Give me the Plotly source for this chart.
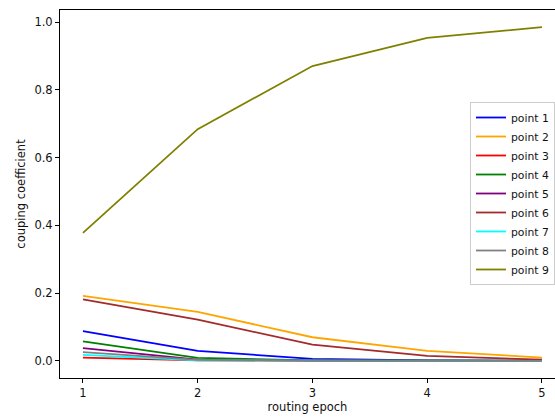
import plotly.graph_objects as go

epochs = [1, 2, 3, 4, 5]
point1 = [0.088, 0.030, 0.006, 0.002, 0.001]
point2 = [0.192, 0.145, 0.070, 0.030, 0.010]
point3 = [0.010, 0.002, 0.001, 0.0005, 0.0003]
point4 = [0.058, 0.009, 0.002, 0.001, 0.0005]
point5 = [0.038, 0.004, 0.001, 0.0005, 0.0003]
point6 = [0.182, 0.122, 0.048, 0.015, 0.004]
point7 = [0.018, 0.002, 0.001, 0.0005, 0.0003]
point8 = [0.026, 0.003, 0.001, 0.0005, 0.0003]
point9 = [0.378, 0.684, 0.870, 0.953, 0.985]

names = ["point 1", "point 2", "point 3", "point 4", "point 5",
         "point 6", "point 7", "point 8", "point 9"]
series = [point1, point2, point3, point4, point5, point6, point7, point8, point9]
colors = ["blue", "orange", "red", "green", "purple",
          "brown", "cyan", "gray", "olive"]

fig = go.Figure()
for n, s, c in zip(names, series, colors):
    fig.add_trace(go.Scatter(x=epochs, y=s, mode="lines", name=n,
                             line=dict(color=c, width=1.8)))

font = dict(family="DejaVu Sans", size=11.5, color="#111")
fig.update_layout(
    width=555, height=419,
    margin=dict(l=60, r=0, t=10, b=41, autoexpand=False),
    plot_bgcolor="white", paper_bgcolor="white",
    font=font,
    showlegend=True,
    legend=dict(x=0.8283, y=0.75, xanchor="left", yanchor="top",
                bgcolor="white", bordercolor="#cccccc", borderwidth=1,
                font=dict(family="DejaVu Sans", size=10.8, color="#111"),
                itemwidth=30),
    xaxis=dict(range=[0.8, 5.1137], tickvals=epochs, ticktext=["1", "2", "3", "4", "5"],
               automargin=False,
               showgrid=False, zeroline=False, showline=True, linecolor="black",
               linewidth=1, mirror=True, ticks="outside", ticklen=4,
               tickcolor="black",
               title=dict(text="routing epoch", font=font, standoff=2)),
    yaxis=dict(range=[-0.0502, 1.0354], tickvals=[0, 0.2, 0.4, 0.6, 0.8, 1.0],
               ticktext=["0.0", "0.2", "0.4", "0.6", "0.8", "1.0"],
               automargin=False,
               showgrid=False, zeroline=False, showline=True, linecolor="black",
               linewidth=1, ticks="outside", ticklen=4, tickcolor="black",
               title=dict(text="couping coefficient", font=font, standoff=6)),
)
fig.write_html("out.html",
               config={"displayModeBar": False},
               post_script="document.body.style.margin='0';document.body.style.overflow='hidden';")
